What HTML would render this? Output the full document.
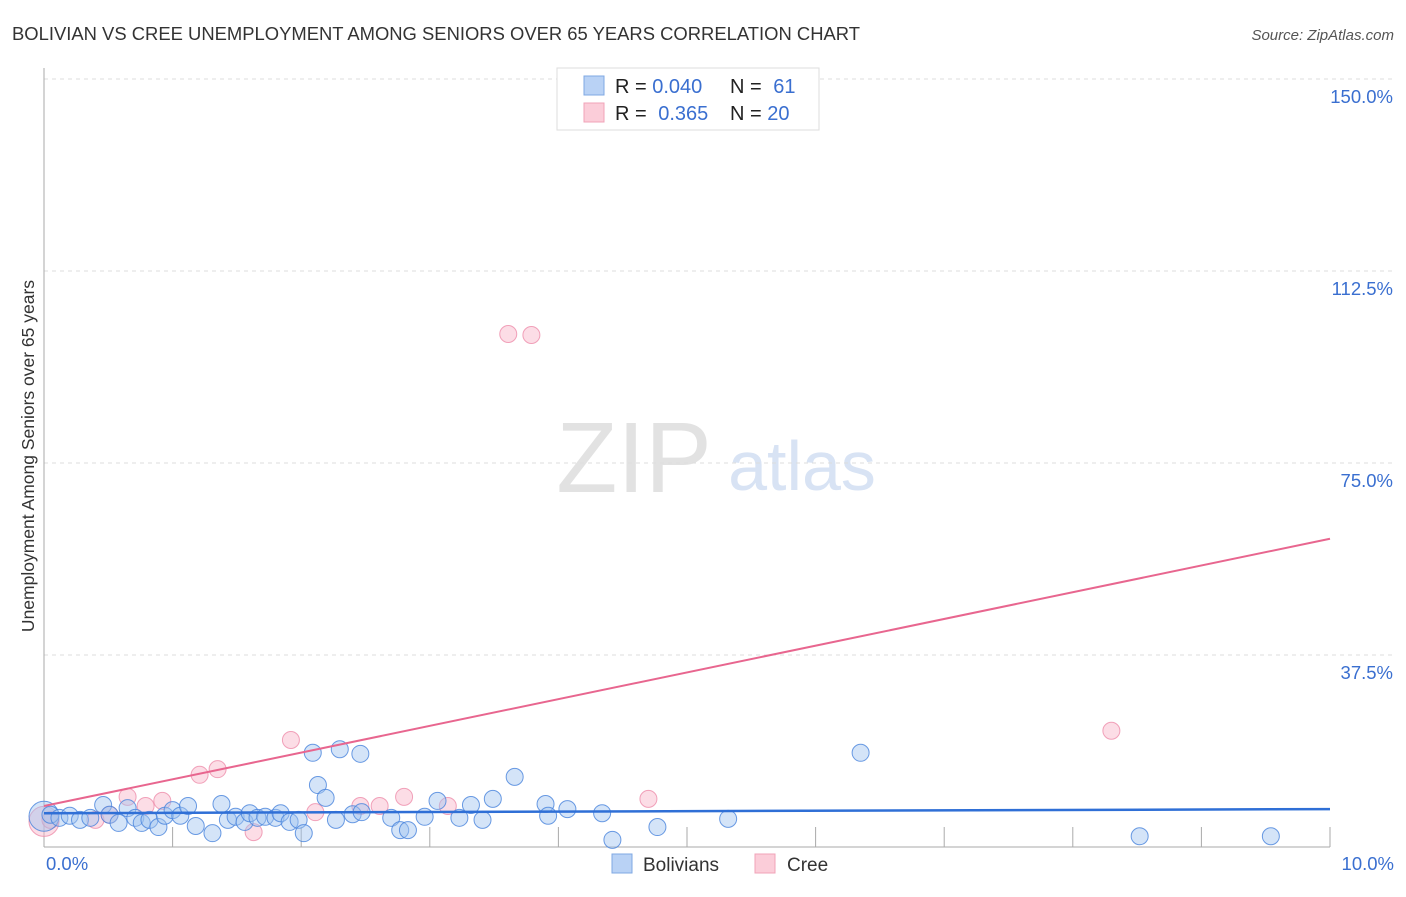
<!DOCTYPE html>
<html><head><meta charset="utf-8"><style>
body{margin:0;background:#fff;font-family:"Liberation Sans",sans-serif;}
svg text{font-family:"Liberation Sans",sans-serif;}
</style></head><body>
<svg width="1406" height="892" viewBox="0 0 1406 892">
<text x="12" y="40" font-size="18" fill="#333" textLength="848" lengthAdjust="spacingAndGlyphs">BOLIVIAN VS CREE UNEMPLOYMENT AMONG SENIORS OVER 65 YEARS CORRELATION CHART</text>
<text x="1394" y="40" font-size="15" fill="#555" font-style="italic" text-anchor="end">Source: ZipAtlas.com</text>
<g>
<text x="634" y="492" font-size="100" fill="#e2e2e2" font-family="Liberation Serif" text-anchor="middle">ZIP</text>
<text x="802" y="490" font-size="70" fill="#d8e3f4" text-anchor="middle">atlas</text>
</g>
<g id="grid"></g>
<g id="axes"></g>
<g id="marks"></g>
<text transform="translate(34,456) rotate(-90)" font-size="17.5" fill="#333" text-anchor="middle">Unemployment Among Seniors over 65 years</text>
<g>
<rect x="557" y="68" width="262" height="62" fill="#fff" stroke="#ddd"/>
<rect x="584" y="76" width="20" height="19" fill="#b9d2f5" stroke="#7fa8e3"/>
<rect x="584" y="103" width="20" height="19" fill="#fbcdd9" stroke="#f0a3b8"/>
<text x="615" y="93" font-size="20" fill="#222">R = <tspan fill="#3a6fd0">0.040</tspan></text>
<text x="730" y="93" font-size="20" fill="#222">N = <tspan fill="#3a6fd0" dx="6">61</tspan></text>
<text x="615" y="120" font-size="20" fill="#222">R = <tspan fill="#3a6fd0" dx="6">0.365</tspan></text>
<text x="730" y="120" font-size="20" fill="#222">N = <tspan fill="#3a6fd0">20</tspan></text>
</g>
<g>
<rect x="612" y="854" width="20" height="19" fill="#b9d2f5" stroke="#7fa8e3"/>
<text x="643" y="871" font-size="19" fill="#333">Bolivians</text>
<rect x="755" y="854" width="20" height="19" fill="#fbcdd9" stroke="#f0a3b8"/>
<text x="787" y="871" font-size="19" fill="#333">Cree</text>
</g>
</svg>
<script>
const yTicks=[37.5,75,112.5,150];
const yTickLabels=["37.5%","75.0%","112.5%","150.0%"];
const xTickLabels=["0.0%","10.0%"];
const bolX=[0.0,0.05,0.12,0.20,0.28,0.36,0.46,0.51,0.58,0.65,0.71,0.76,0.82,0.89,0.94,1.00,1.06,1.12,1.18,1.31,1.38,1.43,1.49,1.56,1.60,1.66,1.72,1.80,1.84,1.91,1.98,2.02,2.09,2.13,2.19,2.27,2.30,2.40,2.46,2.47,2.70,2.77,2.83,2.96,3.06,3.23,3.32,3.41,3.49,3.66,3.90,3.92,4.07,4.34,4.42,4.77,5.32,6.35,8.52,9.54];
const bolY=[6.0,6.3,5.7,6.1,5.3,5.7,8.2,6.3,4.7,7.6,5.7,4.7,5.3,3.9,6.1,7.2,6.1,8.0,4.1,2.7,8.4,5.3,5.9,4.9,6.6,5.7,5.9,5.7,6.6,4.9,5.3,2.7,18.4,12.1,9.6,5.3,19.1,6.4,18.2,6.8,5.7,3.3,3.3,5.9,9.0,5.7,8.2,5.3,9.4,13.7,8.4,6.1,7.4,6.6,1.4,3.9,5.5,18.4,2.1,2.1];
const creeX=[0.0,0.05,0.40,0.51,0.65,0.79,0.92,1.21,1.35,1.63,1.92,2.11,2.46,2.61,2.80,3.14,3.61,3.79,4.70,8.30];
const creeY=[5.0,5.3,5.3,6.3,9.8,8.0,9.0,14.1,15.2,2.9,20.9,6.8,8.0,8.0,9.8,8.0,100.2,100.0,9.4,22.7];
const bolTrend=[6.6,7.4];
const creeTrend=[8.0,60.2];
const NS="http://www.w3.org/2000/svg";
const X=v=>44+v*128.6, Y=v=>847-v*5.12;
function mk(t,a,p){const e=document.createElementNS(NS,t);for(const k in a)e.setAttribute(k,a[k]);p.appendChild(e);return e;}
const grid=document.getElementById('grid'),axes=document.getElementById('axes'),marks=document.getElementById('marks');
yTicks.forEach((t,i)=>{
 const l=mk('line',{x1:44,x2:1394,y1:Y(t),y2:Y(t),stroke:'#ddd','stroke-dasharray':'4,4'},grid);
 
 
 const tx=mk('text',{x:1393,y:Y(t)+24,'font-size':18.5,fill:'#3a6fd0','text-anchor':'end'},axes);
 tx.textContent=yTickLabels[i];
 
 
});
const ya=mk('line',{x1:44,x2:44,y1:68,y2:847,stroke:'#aaa'},axes);


const xa=mk('line',{x1:44,x2:1330,y1:847,y2:847,stroke:'#aaa'},axes);


for(let i=1;i<=10;i++){const t=mk('line',{x1:X(i),x2:X(i),y1:827,y2:847,stroke:'#aaa'},axes);
 
 }
[[0,'start',46],[10,'end',1394]].forEach((d,i)=>{const t=mk('text',{x:d[2],y:870,'font-size':18.5,fill:'#3a6fd0','text-anchor':d[1]},axes);t.textContent=xTickLabels[i];
 
 });
creeX.forEach((x,i)=>{const c=mk('circle',{cx:X(x),cy:Y(creeY[i]),r:i==0?15:8.5,fill:'rgba(248,180,200,0.45)',stroke:'rgba(238,140,170,0.8)'},marks);
 
 });
bolX.forEach((x,i)=>{const c=mk('circle',{cx:X(x),cy:Y(bolY[i]),r:i==0?15:8.5,fill:'rgba(160,195,240,0.45)',stroke:'rgba(70,130,220,0.8)'},marks);
 
 });
const t1=mk('line',{x1:X(0),x2:X(10),y1:Y(creeTrend[0]),y2:Y(creeTrend[1]),stroke:'#e8668f','stroke-width':2},marks);


const t2=mk('line',{x1:X(0),x2:X(10),y1:Y(bolTrend[0]),y2:Y(bolTrend[1]),stroke:'#2f6fd6','stroke-width':2.5},marks);


</script>
</body></html>
